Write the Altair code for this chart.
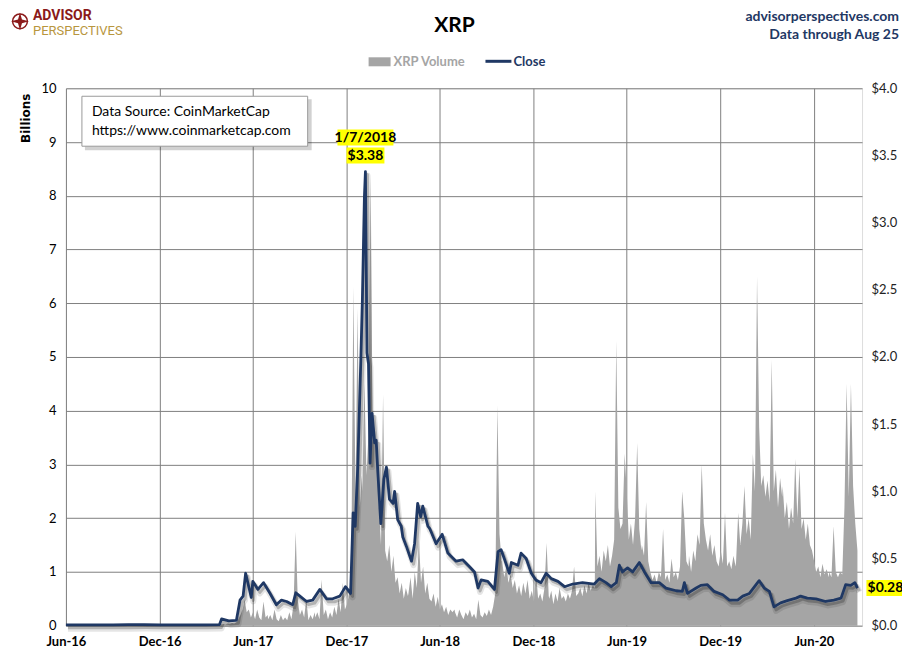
import altair as alt
import pandas as pd

# ---------------- Close price (USD) ----------------
close16_d = ["2016-06-01", "2016-07-01", "2016-08-01", "2016-09-01", "2016-10-01", "2016-11-01", "2016-12-01"]
close16_v = [0.006, 0.0065, 0.006, 0.0065, 0.0075, 0.008, 0.0065]

close17_d = ["2017-01-01", "2017-02-01", "2017-03-01", "2017-03-28", "2017-04-01", "2017-04-15", "2017-04-30",
             "2017-05-07", "2017-05-13", "2017-05-18", "2017-05-29", "2017-06-01", "2017-06-11", "2017-06-22",
             "2017-07-04", "2017-07-17", "2017-07-27", "2017-08-06", "2017-08-18", "2017-08-24", "2017-09-01",
             "2017-09-14", "2017-09-26", "2017-10-10", "2017-10-23", "2017-11-04", "2017-11-18", "2017-11-29",
             "2017-12-09", "2017-12-14", "2017-12-18", "2017-12-23", "2017-12-29"]
close17_v = [0.0065, 0.0065, 0.006, 0.008, 0.05, 0.035, 0.04,
             0.19, 0.22, 0.39, 0.21, 0.33, 0.27, 0.32,
             0.245, 0.156, 0.19, 0.18, 0.156, 0.245, 0.22,
             0.18, 0.19, 0.27, 0.20, 0.20, 0.22, 0.29,
             0.24, 0.84, 0.74, 1.18, 1.98]

close18_d = ["2018-01-01", "2018-01-05", "2018-01-07", "2018-01-10", "2018-01-13", "2018-01-16", "2018-01-20",
             "2018-01-25", "2018-01-28", "2018-01-31", "2018-02-06", "2018-02-12", "2018-02-17", "2018-02-23",
             "2018-03-02", "2018-03-05", "2018-03-11", "2018-03-18", "2018-03-21", "2018-03-28", "2018-04-07",
             "2018-04-13", "2018-04-19", "2018-04-25", "2018-04-29", "2018-05-09", "2018-05-13", "2018-05-25",
             "2018-06-06", "2018-06-17", "2018-07-03", "2018-07-16", "2018-07-29", "2018-08-08", "2018-08-15",
             "2018-08-21", "2018-09-03", "2018-09-16", "2018-09-23", "2018-09-29", "2018-10-06", "2018-10-15",
             "2018-10-19", "2018-11-01", "2018-11-07", "2018-11-17", "2018-11-27", "2018-12-06", "2018-12-16",
             "2018-12-26"]
close18_v = [2.42, 3.19, 3.38, 2.03, 1.95, 1.21, 1.58,
             1.36, 1.38, 1.16, 0.76, 1.09, 1.18, 0.94,
             0.91, 1.00, 0.79, 0.74, 0.66, 0.59, 0.48,
             0.61, 0.91, 0.81, 0.89, 0.74, 0.72, 0.61,
             0.68, 0.54, 0.48, 0.49, 0.44, 0.40, 0.28,
             0.34, 0.33, 0.27, 0.55, 0.565, 0.49, 0.39,
             0.47, 0.45, 0.54, 0.50, 0.39, 0.34, 0.32,
             0.39]

close19_d = ["2019-01-05", "2019-01-18", "2019-01-31", "2019-02-16", "2019-03-07", "2019-03-30", "2019-04-09",
             "2019-04-22", "2019-05-02", "2019-05-12", "2019-05-18", "2019-05-24", "2019-06-03", "2019-06-13",
             "2019-06-26", "2019-07-06", "2019-07-19", "2019-08-04", "2019-08-17", "2019-09-06", "2019-09-18",
             "2019-09-22", "2019-09-28", "2019-10-15", "2019-10-24", "2019-11-06", "2019-11-19", "2019-12-06",
             "2019-12-19"]
close19_v = [0.35, 0.33, 0.29, 0.31, 0.32, 0.31, 0.35,
             0.32, 0.29, 0.32, 0.45, 0.40, 0.43, 0.40,
             0.47, 0.40, 0.32, 0.32, 0.28, 0.26, 0.255,
             0.32, 0.24, 0.28, 0.30, 0.305, 0.255, 0.23,
             0.19]

close20_d = ["2020-01-04", "2020-01-14", "2020-01-27", "2020-02-09", "2020-02-15", "2020-02-25", "2020-03-06",
             "2020-03-15", "2020-03-28", "2020-04-10", "2020-04-27", "2020-05-06", "2020-05-19", "2020-06-05",
             "2020-06-24", "2020-07-10", "2020-07-24", "2020-08-02", "2020-08-12", "2020-08-20", "2020-08-25"]
close20_v = [0.19, 0.22, 0.24, 0.305, 0.335, 0.28, 0.255,
             0.14, 0.17, 0.186, 0.205, 0.22, 0.205, 0.20,
             0.18, 0.19, 0.205, 0.305, 0.30, 0.32, 0.28]

# ---------------- XRP volume (billions), by quarter ----------------
vol_2016 = [0.004, 0.006, 0.003, 0.005, 0.008, 0.004, 0.003, 0.005, 0.004, 0.006, 0.01, 0.005, 0.004, 0.007, 0.006, 0.005]
vol_2017q1 = [0.005, 0.004, 0.006, 0.005, 0.004, 0.006, 0.005, 0.007, 0.006, 0.01, 0.015, 0.03]
vol_2017q2 = [0.02, 0.03, 0.025, 0.04, 0.035, 0.05, 0.04, 0.06, 0.12, 0.2, 0.3, 0.48, 0.25, 0.3, 0.15, 0.25, 0.12, 0.3, 0.15, 0.1, 0.45, 0.15, 0.2]
vol_2017q3 = [0.12, 0.2, 0.1, 0.3, 0.12, 0.08, 0.2, 0.1, 0.15, 0.1, 0.25, 0.12, 0.4, 1.75, 0.45, 0.2, 0.3, 0.15, 0.5, 0.1, 0.2, 0.12, 0.25]
vol_2017q4 = [0.15, 0.25, 0.12, 0.86, 0.2, 0.3, 0.12, 0.25, 0.15, 0.35, 0.2, 0.5, 0.25, 0.8, 0.3, 0.4, 0.6, 1.0, 6.3, 2.4, 5.9, 2.2, 2.8]
vol_2018q1 = [2.5, 4.5, 2.8, 3.6, 8.4, 3.4, 3.7, 3.1, 2.2, 1.5, 4.3, 1.4, 1.2, 1.5, 1.0, 1.3, 0.8, 0.9, 0.6, 0.8, 0.5, 0.7, 0.55]
vol_2018q2 = [0.6, 0.9, 0.5, 1.0, 0.7, 1.6, 0.8, 1.1, 0.6, 0.8, 0.5, 0.45, 0.6, 0.35, 0.54, 0.3, 0.4, 0.25, 0.35, 0.2, 0.3, 0.25, 0.3]
vol_2018q3 = [0.25, 0.15, 0.3, 0.2, 0.12, 0.25, 0.18, 0.3, 0.15, 0.22, 0.12, 0.48, 0.2, 0.15, 0.25, 0.18, 0.3, 0.2, 0.35, 0.6, 4.1, 1.7, 1.2]
vol_2018q4 = [1.2, 0.9, 1.1, 0.8, 0.95, 0.7, 0.85, 0.6, 0.75, 0.55, 0.8, 0.6, 0.85, 0.5, 0.65, 0.45, 1.0, 0.5, 0.6, 0.45, 0.7, 1.54, 0.55]
vol_2019q1 = [0.5, 0.65, 0.4, 0.6, 0.45, 0.7, 0.5, 0.55, 0.45, 0.6, 0.5, 0.65, 1.1, 0.55, 0.6, 0.7, 0.55, 0.75, 0.6, 0.8, 0.65, 0.75, 0.7]
vol_2019q2 = [2.5, 1.1, 1.3, 1.0, 1.4, 1.2, 1.5, 1.1, 1.3, 1.6, 5.3, 2.2, 1.8, 1.9, 3.2, 2.5, 1.6, 1.9, 1.5, 2.0, 3.4, 1.8, 1.4]
vol_2019q3 = [1.5, 1.3, 2.3, 1.2, 1.0, 0.85, 0.95, 0.8, 1.0, 0.9, 1.8, 0.85, 0.95, 0.8, 1.25, 0.9, 1.0, 0.85, 1.1, 2.5, 2.0, 1.2, 1.1]
vol_2019q4 = [1.3, 1.0, 1.4, 1.2, 1.7, 1.5, 3.0, 1.9, 1.6, 1.4, 1.7, 1.3, 1.5, 1.2, 1.1, 1.4, 1.15, 2.1, 1.1, 1.2, 1.05, 1.3, 1.1]
vol_2020q1 = [1.2, 2.1, 1.5, 1.9, 2.6, 1.7, 2.0, 1.6, 3.2, 2.5, 6.5, 3.7, 2.6, 2.8, 2.4, 2.7, 2.3, 4.95, 2.5, 2.9, 2.2, 2.75, 2.4]
vol_2020q2 = [2.6, 2.0, 2.3, 1.8, 2.2, 1.9, 3.1, 2.0, 2.95, 1.8, 2.0, 1.6, 1.9, 1.5, 1.4, 1.2, 1.0, 1.1, 0.9, 1.15, 0.95, 1.05, 0.9]
vol_2020q3 = [1.0, 0.9, 1.85, 1.0, 0.9, 1.0, 0.95, 2.2, 4.5, 2.4, 4.5, 2.6, 1.9, 1.4]

# axis ticks
tick_dates = ["2016-06-01", "2016-12-01", "2017-06-01", "2017-12-01", "2018-06-01",
              "2018-12-01", "2019-06-01", "2019-12-01", "2020-06-01"]
vol_ticks = [0, 1, 2, 3, 4, 5, 6, 7, 8, 9, 10]          # billions
price_ticks = [0, 0.5, 1, 1.5, 2, 2.5, 3, 3.5, 4]        # USD
x_start, x_end = "2016-06-01", "2020-09-03"

# ---------------- build tables ----------------
def iso(d):
    return pd.Timestamp(d).strftime("%Y-%m-%dT%H:%M:%SZ")

def ms(d):
    return int(pd.Timestamp(d, tz="UTC").value // 10**6)

close_rows = []
for ds, vs in [(close16_d, close16_v), (close17_d, close17_v), (close18_d, close18_v),
               (close19_d, close19_v), (close20_d, close20_v)]:
    for d, v in zip(ds, vs):
        close_rows.append({"date": iso(d), "close": v})
close_df = pd.DataFrame(close_rows)

vol_segments = [
    ("2016-06-01", "2016-12-31", vol_2016),
    ("2017-01-01", "2017-03-31", vol_2017q1),
    ("2017-04-01", "2017-06-30", vol_2017q2),
    ("2017-07-01", "2017-09-30", vol_2017q3),
    ("2017-10-01", "2017-12-31", vol_2017q4),
    ("2018-01-01", "2018-03-31", vol_2018q1),
    ("2018-04-01", "2018-06-30", vol_2018q2),
    ("2018-07-01", "2018-09-30", vol_2018q3),
    ("2018-10-01", "2018-12-31", vol_2018q4),
    ("2019-01-01", "2019-03-31", vol_2019q1),
    ("2019-04-01", "2019-06-30", vol_2019q2),
    ("2019-07-01", "2019-09-30", vol_2019q3),
    ("2019-10-01", "2019-12-31", vol_2019q4),
    ("2020-01-01", "2020-03-31", vol_2020q1),
    ("2020-04-01", "2020-06-30", vol_2020q2),
    ("2020-07-01", "2020-08-25", vol_2020q3),
]
vol_rows = []
for start, end, vals in vol_segments:
    for d, v in zip(pd.date_range(start, end, periods=len(vals)), vals):
        vol_rows.append({"date": iso(d), "vol": v})
vol_df = pd.DataFrame(vol_rows)

# ---------------- styling ----------------
FONT = "Lato"
GRID = "#808080"
NAVY = "#1F3864"
GRAY = "#A5A5A5"

x_scale = alt.Scale(type="utc", domain=[ms(x_start), ms(x_end)])
vol_scale = alt.Scale(domain=[0, 10], nice=False)
p_scale = alt.Scale(domain=[0, 4], nice=False, zero=True)

x_axis = alt.Axis(values=[ms(d) for d in tick_dates], labelExpr="utcFormat(datum.value, '%b-%y')",
                  grid=True, gridColor=GRID, gridWidth=1, ticks=False, domain=False,
                  labelFlush=False, title=None, labelFontSize=13, labelColor="#000",
                  labelFontWeight="bold", labelPadding=10, labelFont=FONT)
left_axis = alt.Axis(orient="left", values=vol_ticks, grid=True, gridColor=GRID, gridWidth=1,
                     ticks=False, domain=False, labelPadding=10, title=None,
                     labelFontSize=13, labelColor="#000", labelFont=FONT)
right_axis = alt.Axis(orient="right", values=price_ticks, format="$.1f", grid=False, ticks=False,
                      domain=False, labelPadding=9, title=None, labelFontSize=13,
                      labelColor="#222", labelFont=FONT)

area = alt.Chart(vol_df).mark_area(color=GRAY, opacity=1, interpolate="linear").encode(
    x=alt.X("date:T", scale=x_scale, axis=x_axis),
    y=alt.Y("vol:Q", scale=vol_scale, axis=left_axis),
)

xe = alt.X("date:T", scale=x_scale, axis=None)
ye = alt.Y("close:Q", scale=p_scale, axis=None)

shadow1 = alt.Chart(close_df).mark_line(color="#000", opacity=0.10, strokeWidth=6, xOffset=2, yOffset=4,
                                        strokeJoin="round").encode(x=xe, y=ye)
shadow2 = alt.Chart(close_df).mark_line(color="#000", opacity=0.22, strokeWidth=3, xOffset=2, yOffset=3,
                                        strokeJoin="round").encode(x=xe, y=ye)
line = alt.Chart(close_df).mark_line(color=NAVY, strokeWidth=2.8, strokeJoin="round").encode(
    x=xe, y=alt.Y("close:Q", scale=p_scale, axis=right_axis))

peak_df = pd.DataFrame({"date": [iso("2018-01-07")], "close": [3.38], "d": ["1/7/2018"], "p": ["$3.38"]})
last_df = pd.DataFrame({"date": [iso("2020-08-25")], "close": [0.28], "t": ["$0.28"]})

def box(df, w, h, xo, yo):
    k = h / w
    path = f"M-1,-{k:.4f} L1,-{k:.4f} L1,{k:.4f} L-1,{k:.4f} Z"
    return alt.Chart(df).mark_point(shape=path, size=w * w, filled=True, color="#FFFF00", opacity=1,
                                    strokeWidth=0, xOffset=xo, yOffset=yo).encode(x=xe, y=ye)

def label(df, field, dx, dy):
    return alt.Chart(df).mark_text(font=FONT, fontSize=14, fontWeight="bold", color="#000", dx=dx, dy=dy,
                                   baseline="middle").encode(x=xe, y=ye, text=f"{field}:N")

peak_box1 = box(peak_df, 56, 16, 0, -34)
peak_box2 = box(peak_df, 38, 16, 0, -16)
peak_t1 = label(peak_df, "d", 0, -34)
peak_t2 = label(peak_df, "p", 0, -16)
last_box = box(last_df, 38, 16, 28, 0)
last_t = label(last_df, "t", 28, 0)

# ---------------- decorations (titles, legend, source box, logo) ----------------
one = pd.DataFrame({"k": [0]})

def txt(s, x, y, size=13, weight="normal", color="#000", align="left", font=FONT, angle=0, baseline="alphabetic"):
    kw = dict(text=s, font=font, fontSize=size, fontWeight=weight, color=color, align=align, baseline=baseline)
    if angle:
        kw["angle"] = angle
    return alt.Chart(one).mark_text(**kw).encode(x=alt.value(x), y=alt.value(y))

title = txt("XRP", 389, -56, size=21, weight="bold", align="center")
site = txt("advisorperspectives.com", 834, -67, size=14, weight="bold", color=NAVY, align="right")
through = txt("Data through Aug 25", 834, -49, size=14, weight="bold", color=NAVY, align="right")
billions = txt("Billions", -40, 30, size=12, weight="bold", angle=270, align="center", baseline="middle",
               font="DejaVu Sans")

leg_rect = alt.Chart(one).mark_rect(color=GRAY).encode(
    x=alt.value(303), x2=alt.value(325), y=alt.value(-31), y2=alt.value(-22))
leg_t1 = txt("XRP Volume", 328, -22, size=13, weight="bold", color=GRAY)
leg_line = alt.Chart(one).mark_rule(color=NAVY, strokeWidth=3).encode(
    x=alt.value(420), x2=alt.value(446), y=alt.value(-27))
leg_t2 = txt("Close", 448, -22, size=13, weight="bold", color=NAVY)

src_shadow = alt.Chart(one).mark_rect(color="#000", opacity=0.18).encode(
    x=alt.value(19), x2=alt.value(246), y=alt.value(11), y2=alt.value(62))
src_box = alt.Chart(one).mark_rect(fill="#FFFFFF", stroke="#9A9A9A", strokeWidth=1).encode(
    x=alt.value(16), x2=alt.value(242), y=alt.value(8), y2=alt.value(58))
src_t1 = txt("Data Source: CoinMarketCap", 26, 28, size=14)
src_t2 = txt("https://www.coinmarketcap.com", 26, 47, size=14)

logo_ring = alt.Chart(one).mark_point(shape="circle", size=220, filled=False, color="#8B1A1A",
                                      strokeWidth=1.5, opacity=1).encode(x=alt.value(-46), y=alt.value(-67))
logo_star = alt.Chart(one).mark_point(
    shape="M0,-1 L0.22,-0.22 L1,0 L0.22,0.22 L0,1 L-0.22,0.22 L-1,0 L-0.22,-0.22 Z",
    size=320, filled=True, color="#8B1A1A", opacity=1).encode(x=alt.value(-46), y=alt.value(-67))
logo_t1 = txt("ADVISOR", -33, -68, size=14, weight="bold", color="#8B1A1A",
              font="Liberation Sans Narrow, Roboto, sans-serif")
logo_t2 = txt("PERSPECTIVES", -33, -53, size=13, color="#B8963E",
              font="Liberation Sans Narrow, Roboto, sans-serif")

chart = alt.layer(
    area, shadow1, shadow2, line,
    peak_box1, peak_box2, peak_t1, peak_t2, last_box, last_t,
    src_shadow, src_box, src_t1, src_t2,
    title, site, through, billions,
    leg_rect, leg_t1, leg_line, leg_t2,
    logo_ring, logo_star, logo_t1, logo_t2,
).resolve_scale(y="independent").resolve_axis(x="independent", y="independent").properties(
    width=797, height=538,
    padding={"left": 58, "top": 80, "right": 40, "bottom": 27},
    autosize=alt.AutoSizeParams(type="none"),
    background="#FFFFFF",
).configure_view(stroke=None).configure(font=FONT)

chart.save("out.html", embed_options={"renderer": "svg", "actions": False})
